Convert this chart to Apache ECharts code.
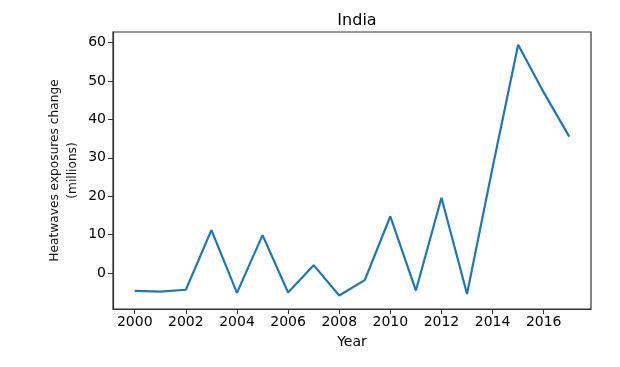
<!DOCTYPE html>
<html><head><meta charset="utf-8">
<script src="https://cdn.jsdelivr.net/npm/echarts@6/dist/echarts.min.js"></script>
<style>html,body{margin:0;padding:0;background:#fff}#c{width:620px;height:367px}</style>
</head><body><div id="c"></div>
<script>
const years = [2000,2001,2002,2003,2004,2005,2006,2007,2008,2009,2010,2011,2012,2013,2014,2015,2016,2017];
const values = [-4.6,-4.8,-4.3,11.2,-5.1,9.9,-5.0,2.1,-5.8,-1.8,14.8,-4.5,19.6,-5.4,27.5,59.4,47.0,35.5];
const xTicks = [2000,2002,2004,2006,2008,2010,2012,2014,2016];
const yTicks = [0,10,20,30,40,50,60];
const title = 'India';
const xName = 'Year';
const yName = 'Heatwaves exposures change\n(millions)';

const font = 'DejaVu Sans';
const chart = echarts.init(document.getElementById('c'), null, {renderer:'canvas'});
chart.setOption({
  animation:false,
  backgroundColor:'#ffffff',
  title:{text:title, left:352, top:8, textAlign:'center',
    textStyle:{fontFamily:font, fontSize:16, fontWeight:'normal', color:'#000'}},
  grid:{left:113, right:29, top:32, bottom:58, show:true, borderColor:'#333', borderWidth:1.2, backgroundColor:'transparent'},
  xAxis:{type:'value', min:1999.15, max:2017.85,
    name:xName, nameLocation:'middle', nameGap:26,
    nameTextStyle:{fontFamily:font, fontSize:14, color:'#000'},
    axisLine:{show:true, onZero:false, lineStyle:{color:'#333', width:1.2}},
    axisTick:{show:true, length:5, customValues:xTicks, lineStyle:{color:'#333'}},
    axisLabel:{customValues:xTicks, formatter:v=>String(v), fontFamily:font, fontSize:14, color:'#000', margin:6},
    splitLine:{show:false}},
  yAxis:{type:'value', min:-9.3, max:62.7,
    name:yName, nameLocation:'middle', nameRotate:90, nameGap:31, nameMoveOverlap:false,
    nameTextStyle:{fontFamily:font, fontSize:12.2, color:'#111', lineHeight:18, align:'center'},
    axisLine:{show:true, onZero:false, lineStyle:{color:'#333', width:1.2}},
    axisTick:{show:true, length:5, customValues:yTicks, lineStyle:{color:'#333'}},
    axisLabel:{customValues:yTicks, formatter:v=>String(v), fontFamily:font, fontSize:14, color:'#000', margin:7},
    splitLine:{show:false}},
  series:[{type:'line', data:years.map((y,i)=>[y,values[i]]), showSymbol:false,
    lineStyle:{color:'#1f77b4', width:2.2}, itemStyle:{color:'#1f77b4'}}]
});
</script></body></html>
